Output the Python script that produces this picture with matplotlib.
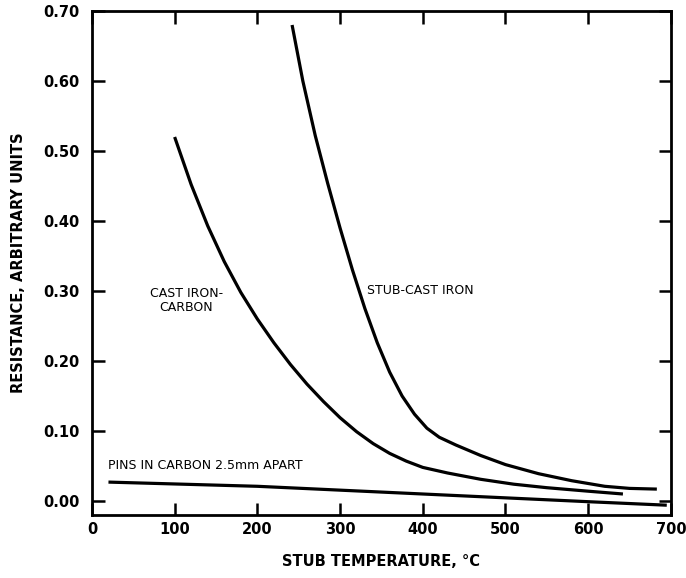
import matplotlib
matplotlib.use("Agg")
import matplotlib.pyplot as plt

# values
cast_x = [100, 120, 140, 160, 180, 200, 220, 240, 260, 280, 300, 320, 340, 360, 380, 400, 430, 470, 510, 550, 600, 642]
cast_y = [0.52, 0.452, 0.393, 0.342, 0.298, 0.260, 0.226, 0.195, 0.167, 0.142, 0.119, 0.099, 0.082, 0.068, 0.057, 0.048, 0.040, 0.031, 0.024, 0.019, 0.014, 0.010]

stub_x = [242, 255, 270, 285, 300, 315, 330, 345, 360, 375, 390, 405, 420, 440, 470, 500, 540, 580, 620, 650, 683]
stub_y = [0.680, 0.600, 0.522, 0.454, 0.390, 0.330, 0.275, 0.226, 0.184, 0.150, 0.124, 0.104, 0.091, 0.080, 0.065, 0.052, 0.039, 0.029, 0.021, 0.018, 0.017]

pins_x = [20, 200, 400, 600, 695]
pins_y = [0.027, 0.021, 0.010, -0.001, -0.006]

xticks = [0, 100, 200, 300, 400, 500, 600, 700]
yticks = [0.00, 0.10, 0.20, 0.30, 0.40, 0.50, 0.60, 0.70]

plt.rcParams['font.family'] = ['DejaVu Sans']

fig = plt.figure(figsize=(6.86, 5.78), dpi=100)
ax = fig.add_axes([0.134, 0.109, 0.844, 0.872])

ax.plot(cast_x, cast_y, color='black', lw=2.3, solid_capstyle='butt', solid_joinstyle='round')
ax.plot(stub_x, stub_y, color='black', lw=2.3, solid_capstyle='butt', solid_joinstyle='round')
ax.plot(pins_x, pins_y, color='black', lw=2.3, solid_capstyle='butt', solid_joinstyle='round')

ax.set_xlim(0, 700)
ax.set_ylim(-0.02, 0.70)
ax.set_xticks(xticks)
ax.set_yticks(yticks)
ax.set_yticklabels([f"{v:.2f}" for v in yticks])
ax.tick_params(direction='in', top=True, right=True, length=9, width=1.8,
               labelsize=10.5)
ax.tick_params(axis='x', pad=5)
ax.tick_params(axis='y', pad=9)
for lab in ax.get_xticklabels() + ax.get_yticklabels():
    lab.set_fontweight('bold')
for sp in ax.spines.values():
    sp.set_linewidth(2)

ax.set_xlabel("STUB TEMPERATURE, °C", fontsize=10.5, fontweight='bold', labelpad=12)
ax.set_ylabel("RESISTANCE, ARBITRARY UNITS", fontsize=10.5, fontweight='bold', labelpad=12)

ax.text(114, 0.287, "CAST IRON-\nCARBON", ha='center', va='center', fontsize=9,
        linespacing=1.1)
ax.text(333, 0.30, "STUB-CAST IRON", ha='left', va='center', fontsize=9)
ax.text(19, 0.051, "PINS IN CARBON 2.5mm APART", ha='left', va='center', fontsize=9)

fig.savefig("out.png", dpi=100)
